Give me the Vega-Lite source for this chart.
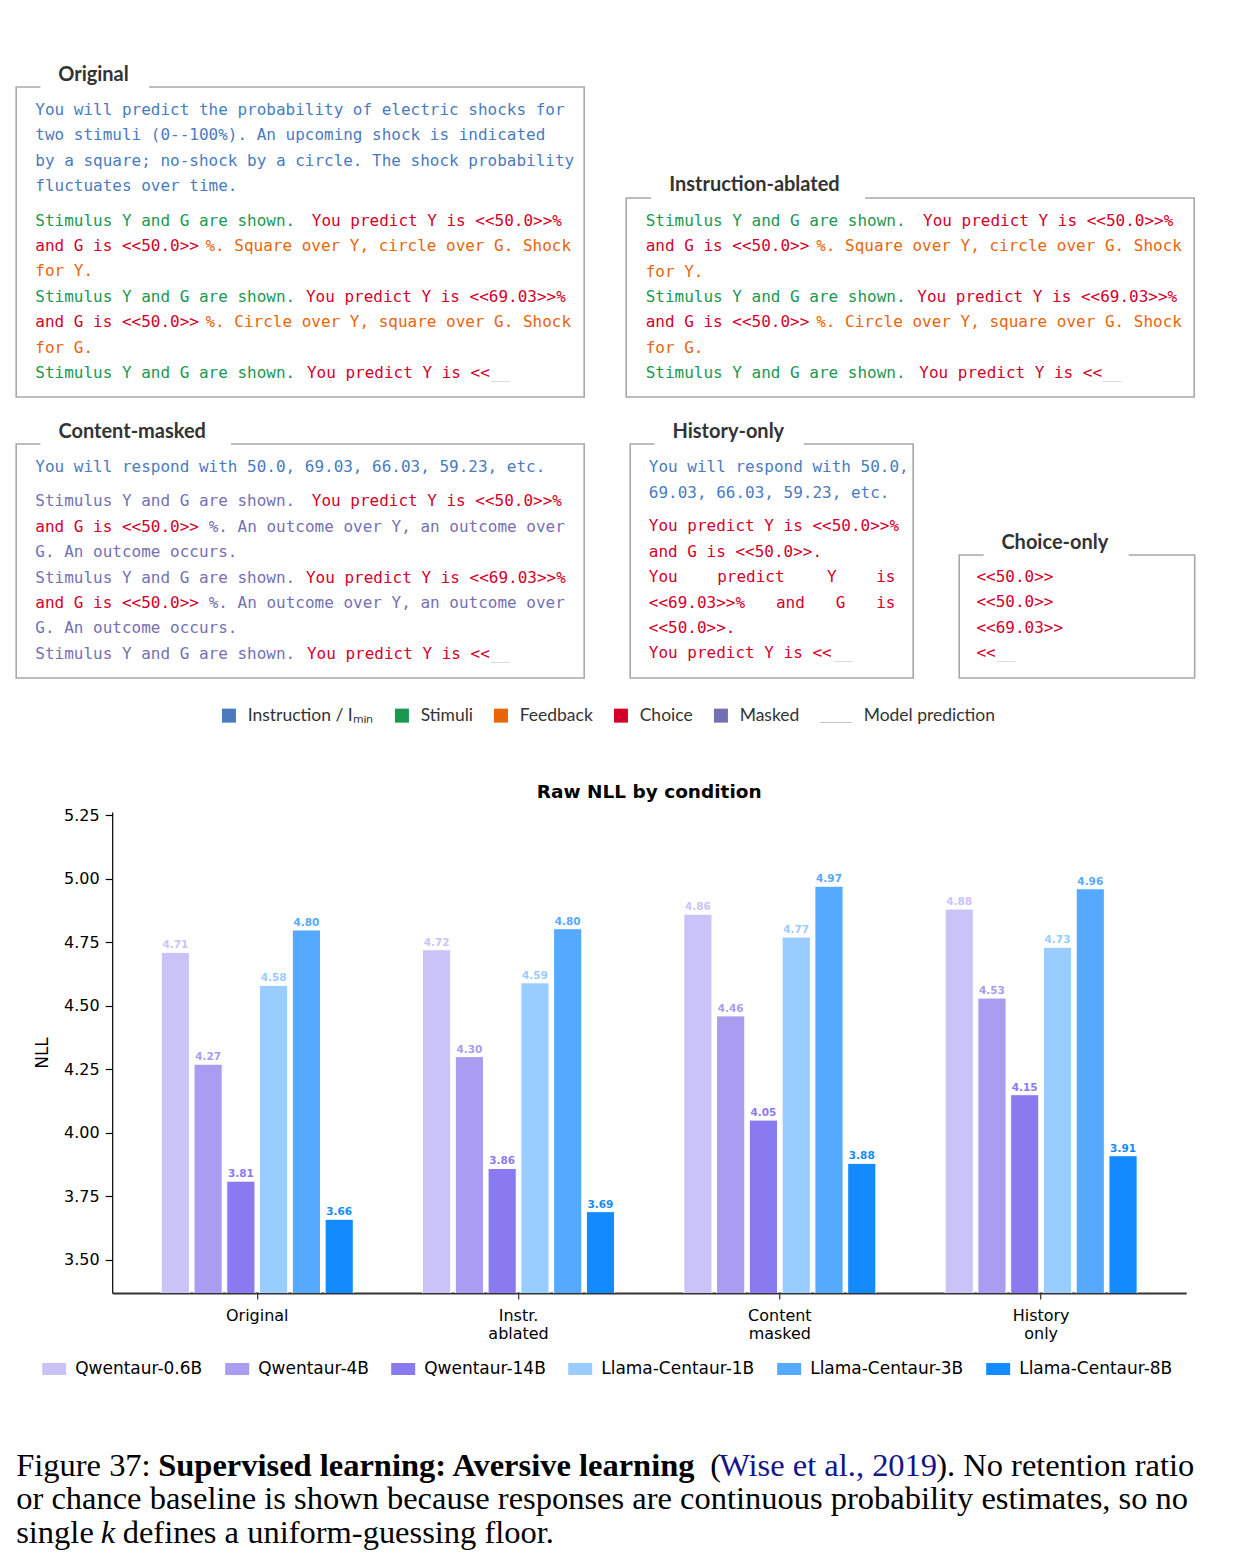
{
  "$schema": "https://vega.github.io/schema/vega-lite/v6.json",
  "background": "white",
  "padding": {"left": 13.2, "top": 59, "right": 5, "bottom": 5},
  "autosize": {"type": "pad"},
  "spacing": 0,
  "config": {"view": {"stroke": null}, "text": {"font": "DejaVu Sans Mono"}},
  "datasets": {
    "prompt": [
      {"panel": "orig", "line": 0, "col": 0, "kind": "Instruction", "text": "You will predict the probability of electric shocks for"},
      {"panel": "orig", "line": 1, "col": 0, "kind": "Instruction", "text": "two stimuli (0--100%).  An upcoming shock is indicated"},
      {"panel": "orig", "line": 2, "col": 0, "kind": "Instruction", "text": "by a square; no-shock by a circle. The shock probability"},
      {"panel": "orig", "line": 3, "col": 0, "kind": "Instruction", "text": "fluctuates over time."},
      {"panel": "orig", "line": 4.354, "col": 0, "kind": "Stimuli", "text": "Stimulus Y and G are shown."},
      {"panel": "orig", "line": 4.354, "col": 28.7, "kind": "Choice", "text": "You predict Y is <<50.0>>%"},
      {"panel": "orig", "line": 5.354, "col": 0, "kind": "Choice", "text": "and G is <<50.0>>"},
      {"panel": "orig", "line": 5.354, "col": 17.66, "kind": "Feedback", "text": "%. Square over Y, circle over G. Shock"},
      {"panel": "orig", "line": 6.354, "col": 0, "kind": "Feedback", "text": "for Y."},
      {"panel": "orig", "line": 7.354, "col": 0, "kind": "Stimuli", "text": "Stimulus Y and G are shown."},
      {"panel": "orig", "line": 7.354, "col": 28.1, "kind": "Choice", "text": "You predict Y is <<69.03>>%"},
      {"panel": "orig", "line": 8.354, "col": 0, "kind": "Choice", "text": "and G is <<50.0>>"},
      {"panel": "orig", "line": 8.354, "col": 17.66, "kind": "Feedback", "text": "%. Circle over Y, square over G. Shock"},
      {"panel": "orig", "line": 9.354, "col": 0, "kind": "Feedback", "text": "for G."},
      {"panel": "orig", "line": 10.354, "col": 0, "kind": "Stimuli", "text": "Stimulus Y and G are shown."},
      {"panel": "orig", "line": 10.354, "col": 28.2, "kind": "Choice", "text": "You predict Y is <<"},
      {"panel": "orig", "line": 10.354, "col": 47.3, "kind": "Model prediction", "text": "__"},

      {"panel": "instr", "line": 0, "col": 0, "kind": "Stimuli", "text": "Stimulus Y and G are shown."},
      {"panel": "instr", "line": 0, "col": 28.8, "kind": "Choice", "text": "You predict Y is <<50.0>>%"},
      {"panel": "instr", "line": 1, "col": 0, "kind": "Choice", "text": "and G is <<50.0>>"},
      {"panel": "instr", "line": 1, "col": 17.7, "kind": "Feedback", "text": "%. Square over Y, circle over G. Shock"},
      {"panel": "instr", "line": 2, "col": 0, "kind": "Feedback", "text": "for Y."},
      {"panel": "instr", "line": 3, "col": 0, "kind": "Stimuli", "text": "Stimulus Y and G are shown."},
      {"panel": "instr", "line": 3, "col": 28.2, "kind": "Choice", "text": "You predict Y is <<69.03>>%"},
      {"panel": "instr", "line": 4, "col": 0, "kind": "Choice", "text": "and G is <<50.0>>"},
      {"panel": "instr", "line": 4, "col": 17.7, "kind": "Feedback", "text": "%. Circle over Y, square over G. Shock"},
      {"panel": "instr", "line": 5, "col": 0, "kind": "Feedback", "text": "for G."},
      {"panel": "instr", "line": 6, "col": 0, "kind": "Stimuli", "text": "Stimulus Y and G are shown."},
      {"panel": "instr", "line": 6, "col": 28.4, "kind": "Choice", "text": "You predict Y is <<"},
      {"panel": "instr", "line": 6, "col": 47.4, "kind": "Model prediction", "text": "__"},

      {"panel": "content", "line": 0, "col": 0, "kind": "Instruction", "text": "You will respond with 50.0, 69.03, 66.03, 59.23, etc."},
      {"panel": "content", "line": 1.339, "col": 0, "kind": "Masked", "text": "Stimulus Y and G are shown."},
      {"panel": "content", "line": 1.339, "col": 28.7, "kind": "Choice", "text": "You predict Y is <<50.0>>%"},
      {"panel": "content", "line": 2.339, "col": 0, "kind": "Choice", "text": "and G is <<50.0>>"},
      {"panel": "content", "line": 2.339, "col": 18, "kind": "Masked", "text": "%. An outcome over Y, an outcome over"},
      {"panel": "content", "line": 3.339, "col": 0, "kind": "Masked", "text": "G. An outcome occurs."},
      {"panel": "content", "line": 4.339, "col": 0, "kind": "Masked", "text": "Stimulus Y and G are shown."},
      {"panel": "content", "line": 4.339, "col": 28.1, "kind": "Choice", "text": "You predict Y is <<69.03>>%"},
      {"panel": "content", "line": 5.339, "col": 0, "kind": "Choice", "text": "and G is <<50.0>>"},
      {"panel": "content", "line": 5.339, "col": 18, "kind": "Masked", "text": "%. An outcome over Y, an outcome over"},
      {"panel": "content", "line": 6.339, "col": 0, "kind": "Masked", "text": "G. An outcome occurs."},
      {"panel": "content", "line": 7.339, "col": 0, "kind": "Masked", "text": "Stimulus Y and G are shown."},
      {"panel": "content", "line": 7.339, "col": 28.2, "kind": "Choice", "text": "You predict Y is <<"},
      {"panel": "content", "line": 7.339, "col": 47.3, "kind": "Model prediction", "text": "__"},

      {"panel": "history", "line": 0, "col": 0, "kind": "Instruction", "text": "You will respond with 50.0,"},
      {"panel": "history", "line": 1, "col": 0, "kind": "Instruction", "text": "69.03, 66.03, 59.23, etc."},
      {"panel": "history", "line": 2.33, "col": 0, "kind": "Choice", "text": "You predict Y is <<50.0>>%"},
      {"panel": "history", "line": 3.33, "col": 0, "kind": "Choice", "text": "and G is <<50.0>>."},
      {"panel": "history", "line": 4.33, "col": 0, "kind": "Choice", "text": "You"},
      {"panel": "history", "line": 4.33, "col": 7.1, "kind": "Choice", "text": "predict"},
      {"panel": "history", "line": 4.33, "col": 18.5, "kind": "Choice", "text": "Y"},
      {"panel": "history", "line": 4.33, "col": 23.6, "kind": "Choice", "text": "is"},
      {"panel": "history", "line": 5.33, "col": 0, "kind": "Choice", "text": "<<69.03>>%"},
      {"panel": "history", "line": 5.33, "col": 13.2, "kind": "Choice", "text": "and"},
      {"panel": "history", "line": 5.33, "col": 19.4, "kind": "Choice", "text": "G"},
      {"panel": "history", "line": 5.33, "col": 23.6, "kind": "Choice", "text": "is"},
      {"panel": "history", "line": 6.33, "col": 0, "kind": "Choice", "text": "<<50.0>>."},
      {"panel": "history", "line": 7.33, "col": 0, "kind": "Choice", "text": "You predict Y is <<"},
      {"panel": "history", "line": 7.33, "col": 19.2, "kind": "Model prediction", "text": "__"},

      {"panel": "choice", "line": 0, "col": 0, "kind": "Choice", "text": "<<50.0>>"},
      {"panel": "choice", "line": 1, "col": 0, "kind": "Choice", "text": "<<50.0>>"},
      {"panel": "choice", "line": 2, "col": 0, "kind": "Choice", "text": "<<69.03>>"},
      {"panel": "choice", "line": 3, "col": 0, "kind": "Choice", "text": "<<"},
      {"panel": "choice", "line": 3, "col": 2, "kind": "Model prediction", "text": "__"}
    ],
    "nll": [
      {"condition": "Original", "model": "Qwentaur-0.6B", "nll": 4.71},
      {"condition": "Original", "model": "Qwentaur-4B", "nll": 4.27},
      {"condition": "Original", "model": "Qwentaur-14B", "nll": 3.81},
      {"condition": "Original", "model": "Llama-Centaur-1B", "nll": 4.58},
      {"condition": "Original", "model": "Llama-Centaur-3B", "nll": 4.798},
      {"condition": "Original", "model": "Llama-Centaur-8B", "nll": 3.66},
      {"condition": "Instr. ablated", "model": "Qwentaur-0.6B", "nll": 4.72},
      {"condition": "Instr. ablated", "model": "Qwentaur-4B", "nll": 4.30},
      {"condition": "Instr. ablated", "model": "Qwentaur-14B", "nll": 3.86},
      {"condition": "Instr. ablated", "model": "Llama-Centaur-1B", "nll": 4.59},
      {"condition": "Instr. ablated", "model": "Llama-Centaur-3B", "nll": 4.803},
      {"condition": "Instr. ablated", "model": "Llama-Centaur-8B", "nll": 3.69},
      {"condition": "Content masked", "model": "Qwentaur-0.6B", "nll": 4.86},
      {"condition": "Content masked", "model": "Qwentaur-4B", "nll": 4.46},
      {"condition": "Content masked", "model": "Qwentaur-14B", "nll": 4.05},
      {"condition": "Content masked", "model": "Llama-Centaur-1B", "nll": 4.77},
      {"condition": "Content masked", "model": "Llama-Centaur-3B", "nll": 4.97},
      {"condition": "Content masked", "model": "Llama-Centaur-8B", "nll": 3.88},
      {"condition": "History only", "model": "Qwentaur-0.6B", "nll": 4.88},
      {"condition": "History only", "model": "Qwentaur-4B", "nll": 4.53},
      {"condition": "History only", "model": "Qwentaur-14B", "nll": 4.15},
      {"condition": "History only", "model": "Llama-Centaur-1B", "nll": 4.73},
      {"condition": "History only", "model": "Llama-Centaur-3B", "nll": 4.96},
      {"condition": "History only", "model": "Llama-Centaur-8B", "nll": 3.91}
    ],
    "caption": [
      {"line": 0, "ch": 0, "style": "regular", "text": "Figure 37:"},
      {"line": 0, "ch": 11, "style": "bold", "text": "Supervised learning: Aversive learning"},
      {"line": 0, "ch": 50, "style": "regular", "text": "("},
      {"line": 0, "ch": 51, "style": "link", "text": "Wise et al., 2019"},
      {"line": 0, "ch": 68, "style": "regular", "text": "). No retention ratio"},
      {"line": 1, "ch": 0, "style": "regular", "text": "or chance baseline is shown because responses are continuous probability estimates, so no"},
      {"line": 2, "ch": 0, "style": "regular", "text": "single"},
      {"line": 2, "ch": 7, "style": "italic", "text": "k"},
      {"line": 2, "ch": 9, "style": "regular", "text": "defines a uniform-guessing floor."}
    ]
  },
  "vconcat": [
    {
      "hconcat": [
        {
          "width": 568, "height": 360,
          "data": {"name": "prompt"},
          "encoding": {
            "x": {"field": "col", "type": "quantitative", "scale": {"domain": [-1.983, 56.981], "nice": false, "zero": false}, "axis": null},
            "y": {"field": "line", "type": "quantitative", "scale": {"domain": [-2.008, 12.165], "nice": false, "zero": false, "reverse": true}, "axis": null}
          },
          "layer": [
            {"transform": [{"filter": "datum.panel == 'orig' && datum.line == 0 && datum.col == 0"}], "mark": {"type": "rect", "filled": false, "stroke": "#a8a8a8", "strokeWidth": 1.6}, "encoding": {"x": {"datum": -1.983}, "x2": {"datum": 56.981}, "y": {"datum": -0.9055}, "y2": {"datum": 11.299}}},
            {"transform": [{"filter": "datum.panel == 'orig' && datum.line == 0 && datum.col == 0"}], "mark": {"type": "rect", "fill": "white"}, "encoding": {"x": {"datum": 0.529}, "x2": {"datum": 11.81}, "y": {"datum": -2.008}, "y2": {"datum": -0.8155}}},
            {"transform": [{"filter": "datum.panel == 'orig' && datum.line == 0 && datum.col == 0"}], "mark": {"type": "text", "text": "Original", "font": "Lato", "fontSize": 20, "fontWeight": "bold", "color": "#333333", "align": "left", "baseline": "alphabetic"}, "encoding": {"x": {"datum": 2.377}, "y": {"datum": -1.161}}},
            {
              "transform": [{"filter": "datum.panel == 'orig'"}],
              "mark": {"type": "text", "font": "DejaVu Sans Mono", "fontSize": 16, "align": "left", "baseline": "middle"},
              "encoding": {
                "text": {"field": "text"},
                "color": {
                  "field": "kind", "type": "nominal",
                  "scale": {"domain": ["Instruction", "Stimuli", "Feedback", "Choice", "Masked", "Model prediction"], "range": ["#4a7bbf", "#1a9850", "#e8650a", "#d4002a", "#7570b3", "#c4c4c4"]},
                  "legend": {
                    "orient": "none", "legendX": 204, "legendY": 647.5, "direction": "horizontal", "title": null, "padding": 0,
                    "symbolType": "square", "symbolSize": 196, "symbolStrokeWidth": 0,
                    "labelFont": "Lato", "labelFontSize": 17.5, "labelColor": "#333333", "labelOffset": 10, "columnPadding": 19,
                    "labelExpr": "datum.label == 'Instruction' ? 'Instruction / Iₘᵢₙ' : datum.label",
                    "encode": {"symbols": {"update": {"shape": {"signal": "datum.value == 'Model prediction' ? 'M-3.6,0.92H1V1.07H-3.6Z' : 'square'"}}}}
                  }
                }
              }
            }
          ]
        },
        {
          "width": 568, "height": 360,
          "data": {"name": "prompt"},
          "encoding": {
            "x": {"field": "col", "type": "quantitative", "scale": {"domain": [-2.024, 56.94], "nice": false, "zero": false}, "axis": null},
            "y": {"field": "line", "type": "quantitative", "scale": {"domain": [-6.366, 7.807], "nice": false, "zero": false, "reverse": true}, "axis": null}
          },
          "layer": [
            {"transform": [{"filter": "datum.panel == 'instr' && datum.line == 0 && datum.col == 0"}], "mark": {"type": "rect", "filled": false, "stroke": "#a8a8a8", "strokeWidth": 1.6}, "encoding": {"x": {"datum": -2.024}, "x2": {"datum": 56.94}, "y": {"datum": -0.894}, "y2": {"datum": 6.941}}},
            {"transform": [{"filter": "datum.panel == 'instr' && datum.line == 0 && datum.col == 0"}], "mark": {"type": "rect", "fill": "white"}, "encoding": {"x": {"datum": 0.571}, "x2": {"datum": 22.79}, "y": {"datum": -0.984}, "y2": {"datum": -0.804}}},
            {"transform": [{"filter": "datum.panel == 'instr' && datum.line == 0 && datum.col == 0"}], "mark": {"type": "text", "text": "Instruction-ablated", "font": "Lato", "fontSize": 20, "fontWeight": "bold", "color": "#333333", "align": "left", "baseline": "alphabetic"}, "encoding": {"x": {"datum": 2.44}, "y": {"datum": -1.15}}},
            {
              "transform": [{"filter": "datum.panel == 'instr'"}],
              "mark": {"type": "text", "font": "DejaVu Sans Mono", "fontSize": 16, "align": "left", "baseline": "middle"},
              "encoding": {
                "text": {"field": "text"},
                "color": {"field": "kind", "type": "nominal", "scale": {"domain": ["Instruction", "Stimuli", "Feedback", "Choice", "Masked", "Model prediction"], "range": ["#4a7bbf", "#1a9850", "#e8650a", "#d4002a", "#7570b3", "#c4c4c4"]}}
              }
            }
          ]
        }
      ],
      "spacing": 42,
      "bounds": "flush"
    },
    {
      "hconcat": [
        {
          "width": 568, "height": 363,
          "data": {"name": "prompt"},
          "encoding": {
            "x": {"field": "col", "type": "quantitative", "scale": {"domain": [-1.983, 56.981], "nice": false, "zero": false}, "axis": null},
            "y": {"field": "line", "type": "quantitative", "scale": {"domain": [-1.902, 12.39], "nice": false, "zero": false, "reverse": true}, "axis": null}
          },
          "layer": [
            {"transform": [{"filter": "datum.panel == 'content' && datum.line == 0 && datum.col == 0"}], "mark": {"type": "rect", "filled": false, "stroke": "#a8a8a8", "strokeWidth": 1.6}, "encoding": {"x": {"datum": -1.983}, "x2": {"datum": 56.981}, "y": {"datum": -0.917}, "y2": {"datum": 8.295}}},
            {"transform": [{"filter": "datum.panel == 'content' && datum.line == 0 && datum.col == 0"}], "mark": {"type": "rect", "fill": "white"}, "encoding": {"x": {"datum": 0.529}, "x2": {"datum": 20.32}, "y": {"datum": -1.007}, "y2": {"datum": -0.827}}},
            {"transform": [{"filter": "datum.panel == 'content' && datum.line == 0 && datum.col == 0"}], "mark": {"type": "text", "text": "Content-masked", "font": "Lato", "fontSize": 20, "fontWeight": "bold", "color": "#333333", "align": "left", "baseline": "alphabetic"}, "encoding": {"x": {"datum": 2.4}, "y": {"datum": -1.173}}},
            {
              "transform": [{"filter": "datum.panel == 'content'"}],
              "mark": {"type": "text", "font": "DejaVu Sans Mono", "fontSize": 16, "align": "left", "baseline": "middle"},
              "encoding": {
                "text": {"field": "text"},
                "color": {"field": "kind", "type": "nominal", "scale": {"domain": ["Instruction", "Stimuli", "Feedback", "Choice", "Masked", "Model prediction"], "range": ["#4a7bbf", "#1a9850", "#e8650a", "#d4002a", "#7570b3", "#c4c4c4"]}}
              }
            }
          ]
        },
        {
          "width": 283, "height": 363,
          "data": {"name": "prompt"},
          "encoding": {
            "x": {"field": "col", "type": "quantitative", "scale": {"domain": [-1.931, 27.447], "nice": false, "zero": false}, "axis": null},
            "y": {"field": "line", "type": "quantitative", "scale": {"domain": [-1.902, 12.39], "nice": false, "zero": false, "reverse": true}, "axis": null}
          },
          "layer": [
            {"transform": [{"filter": "datum.panel == 'history' && datum.line == 0 && datum.col == 0"}], "mark": {"type": "rect", "filled": false, "stroke": "#a8a8a8", "strokeWidth": 1.6}, "encoding": {"x": {"datum": -1.931}, "x2": {"datum": 27.447}, "y": {"datum": -0.917}, "y2": {"datum": 8.295}}},
            {"transform": [{"filter": "datum.panel == 'history' && datum.line == 0 && datum.col == 0"}], "mark": {"type": "rect", "fill": "white"}, "encoding": {"x": {"datum": 0.581}, "x2": {"datum": 16.09}, "y": {"datum": -1.007}, "y2": {"datum": -0.827}}},
            {"transform": [{"filter": "datum.panel == 'history' && datum.line == 0 && datum.col == 0"}], "mark": {"type": "text", "text": "History-only", "font": "Lato", "fontSize": 20, "fontWeight": "bold", "color": "#333333", "align": "left", "baseline": "alphabetic"}, "encoding": {"x": {"datum": 2.46}, "y": {"datum": -1.173}}},
            {
              "transform": [{"filter": "datum.panel == 'history'"}],
              "mark": {"type": "text", "font": "DejaVu Sans Mono", "fontSize": 16, "align": "left", "baseline": "middle"},
              "encoding": {
                "text": {"field": "text"},
                "color": {"field": "kind", "type": "nominal", "scale": {"domain": ["Instruction", "Stimuli", "Feedback", "Choice", "Masked", "Model prediction"], "range": ["#4a7bbf", "#1a9850", "#e8650a", "#d4002a", "#7570b3", "#c4c4c4"]}}
              }
            }
          ]
        },
        {
          "width": 235.5, "height": 363,
          "data": {"name": "prompt"},
          "encoding": {
            "x": {"field": "col", "type": "quantitative", "scale": {"domain": [-1.796, 22.651], "nice": false, "zero": false}, "axis": null},
            "y": {"field": "line", "type": "quantitative", "scale": {"domain": [-6.209, 8.083], "nice": false, "zero": false, "reverse": true}, "axis": null}
          },
          "layer": [
            {"transform": [{"filter": "datum.panel == 'choice' && datum.line == 0 && datum.col == 0"}], "mark": {"type": "rect", "filled": false, "stroke": "#a8a8a8", "strokeWidth": 1.6}, "encoding": {"x": {"datum": -1.796}, "x2": {"datum": 22.651}, "y": {"datum": -0.854}, "y2": {"datum": 3.988}}},
            {"transform": [{"filter": "datum.panel == 'choice' && datum.line == 0 && datum.col == 0"}], "mark": {"type": "rect", "fill": "white"}, "encoding": {"x": {"datum": 0.737}, "x2": {"datum": 15.8}, "y": {"datum": -0.944}, "y2": {"datum": -0.764}}},
            {"transform": [{"filter": "datum.panel == 'choice' && datum.line == 0 && datum.col == 0"}], "mark": {"type": "text", "text": "Choice-only", "font": "Lato", "fontSize": 20, "fontWeight": "bold", "color": "#333333", "align": "left", "baseline": "alphabetic"}, "encoding": {"x": {"datum": 2.585}, "y": {"datum": -1.11}}},
            {
              "transform": [{"filter": "datum.panel == 'choice'"}],
              "mark": {"type": "text", "font": "DejaVu Sans Mono", "fontSize": 16, "align": "left", "baseline": "middle"},
              "encoding": {
                "text": {"field": "text"},
                "color": {"field": "kind", "type": "nominal", "scale": {"domain": ["Instruction", "Stimuli", "Feedback", "Choice", "Masked", "Model prediction"], "range": ["#4a7bbf", "#1a9850", "#e8650a", "#d4002a", "#7570b3", "#c4c4c4"]}}
              }
            }
          ]
        }
      ],
      "spacing": 46,
      "bounds": "flush"
    },
    {
      "hconcat": [
        {
          "width": 1, "height": 1,
          "data": {"values": [{}]},
          "mark": {"type": "point", "opacity": 0}
        },
        {
          "width": 1074, "height": 481,
          "data": {"name": "nll"},
          "title": {"text": "Raw NLL by condition", "font": "DejaVu Sans", "fontSize": 18.5, "fontWeight": "bold", "color": "black", "anchor": "middle", "offset": 6},
          "encoding": {
            "x": {
              "field": "condition", "type": "nominal",
              "sort": ["Original", "Instr. ablated", "Content masked", "History only"],
              "scale": {"paddingInner": 0.265, "paddingOuter": 0.1877},
              "axis": {
                "title": null, "labelAngle": 0, "labelExpr": "split(datum.label, ' ')",
                "labelFont": "DejaVu Sans", "labelFontSize": 16, "labelColor": "black", "labelLineHeight": 18, "labelPadding": 9,
                "tickSize": 6, "tickColor": "#333333", "tickWidth": 1.2, "domainColor": "#333333", "domainWidth": 2
              }
            },
            "xOffset": {
              "field": "model", "type": "nominal",
              "sort": ["Qwentaur-0.6B", "Qwentaur-4B", "Qwentaur-14B", "Llama-Centaur-1B", "Llama-Centaur-3B", "Llama-Centaur-8B"],
              "scale": {"paddingInner": 0.14, "paddingOuter": 0}
            },
            "y": {
              "field": "nll", "type": "quantitative",
              "scale": {"domain": [3.37, 5.262], "nice": false, "zero": false},
              "axis": {
                "title": "NLL", "values": [3.5, 3.75, 4, 4.25, 4.5, 4.75, 5, 5.25], "format": ".2f", "grid": false,
                "labelFont": "DejaVu Sans", "labelFontSize": 16, "labelColor": "black", "labelPadding": 6,
                "tickSize": 7, "tickColor": "black", "tickWidth": 1.2, "domainColor": "black", "domainWidth": 1.2,
                "titleFont": "DejaVu Sans", "titleFontSize": 17, "titleFontWeight": "normal", "titleColor": "black", "titlePadding": 12
              }
            },
            "fill": {
              "field": "model", "type": "nominal",
              "scale": {
                "domain": ["Qwentaur-0.6B", "Qwentaur-4B", "Qwentaur-14B", "Llama-Centaur-1B", "Llama-Centaur-3B", "Llama-Centaur-8B"],
                "range": ["#c9c3f8", "#a99cf1", "#8a7aef", "#99ccff", "#55aaff", "#138bff"]
              },
              "legend": {
                "orient": "none", "legendX": 26, "legendY": 1298, "direction": "horizontal", "title": null, "padding": 0,
                "symbolType": "M-1,-0.5H1V0.5H-1Z", "symbolSize": 576, "symbolStrokeWidth": 0,
                "labelFont": "DejaVu Sans", "labelFontSize": 17, "labelColor": "black", "labelOffset": 9, "columnPadding": 22
              }
            }
          },
          "layer": [
            {"mark": {"type": "bar", "stroke": "white", "strokeWidth": 1, "clip": true}},
            {
              "mark": {"type": "text", "font": "DejaVu Sans", "fontSize": 10.5, "fontWeight": "bold", "baseline": "bottom", "dy": -2},
              "encoding": {"text": {"field": "nll", "type": "quantitative", "format": ".2f"}}
            }
          ]
        }
      ],
      "spacing": 95,
      "bounds": "flush"
    },
    {
      "width": 1186, "height": 215,
      "data": {"name": "caption"},
      "encoding": {
        "x": {"field": "ch", "type": "quantitative", "scale": {"domain": [0, 7, 9, 11, 50, 51, 68], "range": [0, 84.5, 106.5, 142, 694, 703, 920], "nice": false, "zero": false}, "axis": null},
        "y": {"field": "line", "type": "quantitative", "scale": {"domain": [-4.024, 2.432], "nice": false, "zero": false, "reverse": true}, "axis": null},
        "text": {"field": "text"}
      },
      "layer": [
        {"transform": [{"filter": "datum.style == 'regular'"}], "mark": {"type": "text", "font": "Liberation Serif", "fontSize": 32.5, "align": "left", "baseline": "alphabetic", "color": "black"}},
        {"transform": [{"filter": "datum.style == 'bold'"}], "mark": {"type": "text", "font": "Liberation Serif", "fontSize": 32.5, "fontWeight": "bold", "align": "left", "baseline": "alphabetic", "color": "black"}},
        {"transform": [{"filter": "datum.style == 'italic'"}], "mark": {"type": "text", "font": "Liberation Serif", "fontSize": 32.5, "fontStyle": "italic", "align": "left", "baseline": "alphabetic", "color": "black"}},
        {"transform": [{"filter": "datum.style == 'link'"}], "mark": {"type": "text", "font": "Liberation Serif", "fontSize": 32.5, "align": "left", "baseline": "alphabetic", "color": "#14148c"}}
      ]
    }
  ]
}
